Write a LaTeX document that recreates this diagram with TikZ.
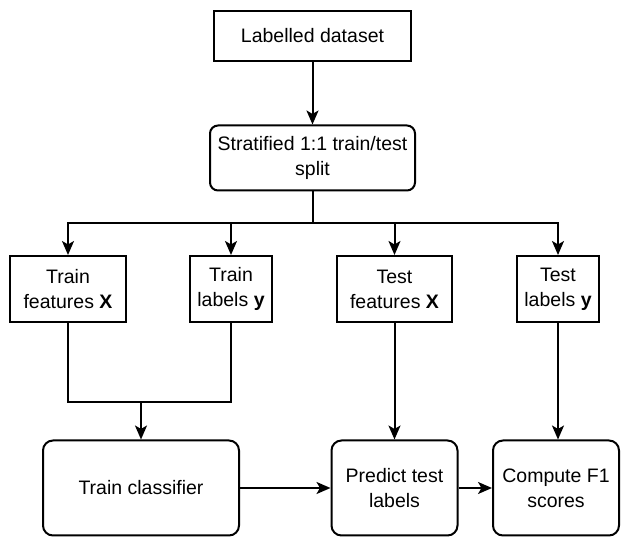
\documentclass[tikz,border=0pt]{standalone}
\usepackage{fontspec}
\setmainfont{Liberation Sans}
\usetikzlibrary{arrows.meta}
\begin{document}
\begin{tikzpicture}[x=1pt, y=-1pt, line width=2pt,
  box/.style={draw, align=center, inner sep=0pt, font=\fontsize{19.5}{25}\selectfont},
  rbox/.style={box, rounded corners=10pt},
  arr/.style={-{Stealth[length=14pt, width=12pt, inset=3.5pt]}}]
\useasboundingbox (0,0) rectangle (622,537);
\node[box, minimum width=197pt, minimum height=50pt] (lab) at (312.5,36) {Labelled dataset};
\node[rbox, rounded corners=8pt, minimum width=205pt, minimum height=65pt] (strat) at (312.5,158) {Stratified 1:1 train/test\\split};
\node[box, minimum width=116pt, minimum height=66pt] (trf) at (68,289) {Train\\features \textbf{X}};
\node[box, minimum width=82pt, minimum height=66pt] (trl) at (231,289) {Train\\labels \textbf{y}};
\node[box, minimum width=115pt, minimum height=66pt] (tef) at (394.5,289) {Test\\features \textbf{X}};
\node[box, minimum width=82pt, minimum height=66pt] (tel) at (558,289) {Test\\labels \textbf{y}};
\node[rbox, minimum width=196pt, minimum height=95pt] (tc) at (141,488) {Train classifier};
\node[rbox, minimum width=126pt, minimum height=95pt] (pt) at (394.5,488) {Predict test\\labels};
\node[rbox, minimum width=126pt, minimum height=95pt] (cf) at (556,488) {Compute F1\\scores};
\coordinate (split) at (312.5,223);
\coordinate (join) at (141,402);
\draw[arr] (lab) -- (strat);
\draw (strat) -- (split);
\draw[arr] (split) -| (trf);
\draw[arr] (split) -| (trl);
\draw[arr] (split) -| (tef);
\draw[arr] (split) -| (tel);
\draw (trf) |- (join);
\draw (trl) |- (join);
\draw[arr] (join) -- (tc);
\draw[arr] (tef) -- (tef |- pt.north);
\draw[arr] (tel) -- (tel |- cf.north);
\draw[arr] (tc) -- (pt);
\draw[arr] (pt) -- (cf);
\end{tikzpicture}
\end{document}
